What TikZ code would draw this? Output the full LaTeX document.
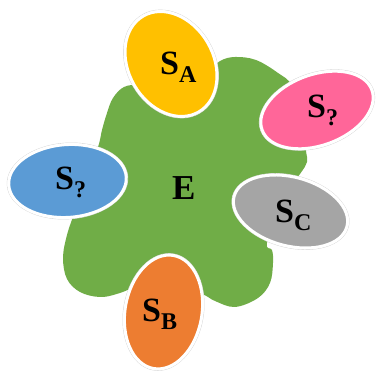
\documentclass[tikz,border=0pt]{standalone}
\usepackage{fontspec}
\setmainfont{Liberation Serif}
\definecolor{cgreen}{HTML}{70AD47}
\definecolor{cyellow}{HTML}{FFC000}
\definecolor{cpink}{HTML}{FF6699}
\definecolor{cblue}{HTML}{5B9BD5}
\definecolor{cgray}{HTML}{A5A5A5}
\definecolor{corange}{HTML}{ED7D31}
\newcommand\mysub[1]{\raisebox{-8pt}{\fontsize{24}{24}\selectfont #1}}
\tikzset{
  lab/.style={inner sep=0pt, anchor=base west, font=\fontsize{34}{34}\selectfont\bfseries},
  halo/.style={draw=gray!35, line width=0.6pt},
  petal/.style={draw=white, line width=3pt}
}
\newcommand\petal[5]{%
  \draw[halo] (#1) circle [x radius=#2pt, y radius=#3pt, rotate=#4];
  \draw[petal, fill=#5] (#1) circle [x radius=#2pt-1.6pt, y radius=#3pt-1.6pt, rotate=#4];
}
\begin{document}
\begin{tikzpicture}[x=1pt,y=1pt]
\useasboundingbox (0,0) rectangle (376,371);
% environment blob
\fill[cgreen] plot[smooth cycle, tension=0.6] coordinates {
  (140,286) (165,282) (205,298) (220,310) (235,314) (256,311) (278,298)
  (292,285) (302,250) (306,220) (307,209) (300,197) (280,170) (267,128)
  (272,121) (273,108) (270,88) (258,73) (235,64) (215,70) (200,78) (160,92)
  (120,78) (100,74) (80,79) (67,92) (63,113) (67,136) (75,160) (85,190)
  (98,224) (102,241) (107,258) (113,273) (124,284)};
\coordinate (ca) at (171,307);
\coordinate (cq1) at (317,261);
\coordinate (cq2) at (67.5,190);
\coordinate (cc) at (290.5,159.5);
\coordinate (cb) at (163.5,59);
\petal{ca}{57}{44}{-60}{cyellow}
\petal{cq1}{60}{37}{20}{cpink}
\petal{cq2}{60.5}{38}{4}{cblue}
\petal{cc}{60}{36}{-15}{cgray}
\petal{cb}{59}{40}{80}{corange}
\node[lab] (sa) at (160,296) {S\mysub{A}};
\node[lab] (sq1) at (307,253) {S\mysub{?}};
\node[lab] (sq2) at (55,181) {S\mysub{?}};
\node[lab] (sc) at (275,148) {S\mysub{C}};
\node[lab] (sb) at (142,49) {S\mysub{B}};
\node[lab, font=\fontsize{35}{35}\selectfont\bfseries] (e) at (172,171) {E};
\end{tikzpicture}
\end{document}
